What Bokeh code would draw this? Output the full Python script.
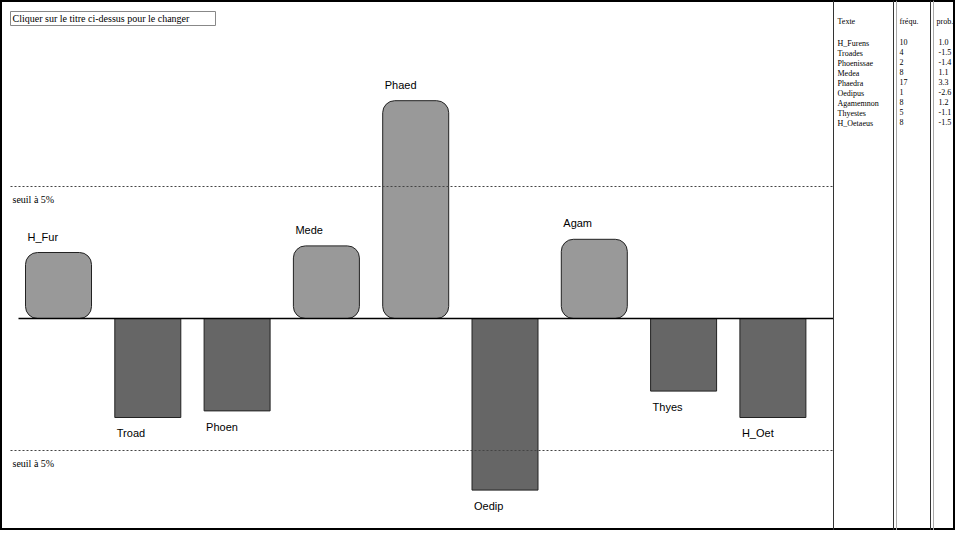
from bokeh.plotting import figure
from bokeh.models import Range1d
from bokeh.core.properties import value
from bokeh.embed import file_html
from bokeh.resources import INLINE

labels = ["H_Fur", "Troad", "Phoen", "Mede", "Phaed", "Oedip", "Agam", "Thyes", "H_Oet"]
textes = ["H_Furens", "Troades", "Phoenissae", "Medea", "Phaedra", "Oedipus", "Agamemnon", "Thyestes", "H_Oetaeus"]
freq = [10, 4, 2, 8, 17, 1, 8, 5, 8]
prob = [1.0, -1.5, -1.4, 1.1, 3.3, -2.6, 1.2, -1.1, -1.5]
seuil = 2.0

W, H = 955, 530
scale = 66.0           # pixels per unit
base = 318             # baseline in pixels from top of figure
x0, step, bw = 58, 89.3, 66

def ypx(py):
    return (base - py) / scale

p = figure(width=W, height=H, output_backend="svg", toolbar_location=None,
           x_range=Range1d(0, W), y_range=Range1d(ypx(H), ypx(0)), min_border=0)
p.axis.visible = False
p.grid.visible = False
p.outline_line_color = "black"
p.outline_line_width = 3

xs = [x0 + i * step for i in range(len(prob))]
pos = [i for i, v in enumerate(prob) if v > 0]
neg = [i for i, v in enumerate(prob) if v <= 0]
p.quad(left=[xs[i] - bw / 2 for i in pos], right=[xs[i] + bw / 2 for i in pos],
       bottom=0, top=[prob[i] for i in pos], fill_color="#999999", line_color="#222222",
       border_radius=12)
p.quad(left=[xs[i] - bw / 2 for i in neg], right=[xs[i] + bw / 2 for i in neg],
       bottom=[prob[i] for i in neg], top=0, fill_color="#666666", line_color="#222222")

chart_right = 833
p.segment(x0=[10, 10], x1=[chart_right] * 2, y0=[seuil, -seuil], y1=[seuil, -seuil],
          line_color="#444444", line_dash="2 2")
p.segment(x0=[18], x1=[chart_right], y0=[0], y1=[0], line_color="black", line_width=1.5)

lab_font = value("Liberation Sans")
p.text(x=[xs[i] - bw / 2 + 2 for i in pos], y=[prob[i] + 0.15 for i in pos],
       text=[labels[i] for i in pos], text_font=lab_font, text_font_size="11px",
       text_baseline="bottom", text_color="black")
p.text(x=[xs[i] - bw / 2 + 2 for i in neg], y=[prob[i] - 0.15 for i in neg],
       text=[labels[i] for i in neg], text_font=lab_font, text_font_size="11px",
       text_baseline="top", text_color="black")

serif = value("Liberation Serif")
p.text(x=[12, 12], y=[seuil - 0.12, -seuil - 0.12], text=["seuil à 5%"] * 2,
       text_font=serif, text_font_size="10px", text_baseline="top", text_color="black")
p.text(x=[12], y=[ypx(12)], text=["Cliquer sur le titre ci-dessus pour le changer"],
       text_font=serif, text_font_size="10px", text_baseline="top", text_color="black")
p.quad(left=[10], right=[215], top=[ypx(11)], bottom=[ypx(25)], fill_alpha=0,
       line_color="#888888")

# right-hand table
cols = [chart_right, 893, 930]
p.segment(x0=cols, x1=cols, y0=[ypx(0)] * 3, y1=[ypx(H)] * 3, line_color="#333333")
p.segment(x0=[cols[1] + 3, cols[2] + 3], x1=[cols[1] + 3, cols[2] + 3],
          y0=[ypx(0)] * 2, y1=[ypx(H)] * 2, line_color="#aaaaaa")
p.text(x=[cols[0] + 4, cols[1] + 6, cols[2] + 6], y=[ypx(16)] * 3,
       text=["Texte", "fréqu.", "prob."], text_font=serif, text_font_size="8px",
       text_baseline="top", text_color="black")
rows = [ypx(38 + 10 * i) for i in range(len(textes))]
p.text(x=[cols[0] + 4] * len(textes), y=rows, text=textes, text_font=serif,
       text_font_size="8px", text_baseline="top", text_color="black")
p.text(x=[cols[1] + 6] * len(freq), y=rows, text=[str(f) for f in freq], text_font=serif,
       text_font_size="8px", text_baseline="top", text_color="black")
p.text(x=[cols[2] + 8] * len(prob), y=rows, text=[str(v) for v in prob], text_font=serif,
       text_font_size="8px", text_baseline="top", text_color="black")

open("out.html", "w").write(file_html(p, INLINE))
